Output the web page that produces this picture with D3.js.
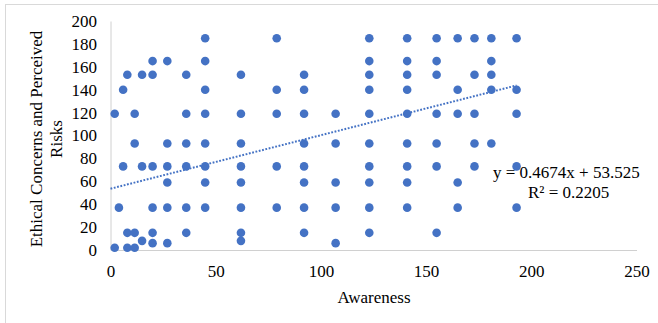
<!DOCTYPE html>
<html>
<head>
<meta charset="utf-8">
<script src="https://cdn.jsdelivr.net/npm/d3@7"></script>
<style>
  body { margin: 0; background: #fff; }
  svg text { font-family: "Liberation Serif", "Times New Roman", serif; fill: #000; }
</style>
</head>
<body>
<div id="chart"></div>
<script>
// values, one awareness column per line
var awareness = [
  2, 2,
  4,
  6, 6,
  8, 8, 8,
  11.5, 11.5, 11.5, 11.5,
  15, 15, 15,
  20, 20, 20, 20, 20, 20,
  27, 27, 27, 27, 27, 27,
  36, 36, 36, 36, 36, 36,
  45, 45, 45, 45, 45, 45, 45, 45,
  62, 62, 62, 62, 62, 62, 62, 62,
  79, 79, 79, 79, 79,
  92, 92, 92, 92, 92, 92, 92, 92,
  107, 107, 107, 107, 107,
  123, 123, 123, 123, 123, 123, 123, 123, 123, 123,
  141, 141, 141, 141, 141, 141, 141, 141, 141,
  155, 155, 155, 155, 155, 155, 155,
  165, 165, 165, 165, 165,
  173, 173, 173, 173, 173,
  181, 181, 181, 181, 181,
  193, 193, 193, 193, 193
];
var concerns = [
  119, 2,
  37,
  73, 140,
  153, 15, 2,
  119, 93, 15, 2,
  153, 73, 8,
  165, 153, 73, 37, 15, 6,
  165, 93, 73, 59, 37, 6,
  153, 119, 93, 73, 37, 15,
  185, 165, 140, 119, 93, 73, 59, 37,
  153, 119, 93, 73, 59, 37, 15, 8,
  185, 140, 119, 73, 37,
  153, 140, 119, 93, 73, 59, 37, 15,
  119, 93, 59, 37, 6,
  185, 165, 153, 140, 119, 93, 73, 59, 37, 15,
  185, 165, 153, 140, 119, 93, 73, 59, 37,
  185, 165, 153, 119, 93, 73, 15,
  185, 140, 119, 59, 37,
  185, 153, 119, 93, 73,
  185, 165, 153, 140, 93,
  185, 140, 119, 73, 37
];
var xTicks = [0, 50, 100, 150, 200, 250];
var yTicks = [0, 20, 40, 60, 80, 100, 120, 140, 160, 180, 200];
var trendSlope = 0.4674;
var trendIntercept = 53.525;
var trendLabel = "y = 0.4674x + 53.525";
var r2Label = "R\u00b2 = 0.2205";

var width = 658, height = 323;
var plotLeft = 110.5, plotRight = 636.5, plotTop = 21, plotBottom = 250;
var blue = "#4472C4", axisGrey = "#d0d0d0";
var serif = "'Liberation Serif', 'Times New Roman', serif";

var svg = d3.select("#chart").append("svg")
    .attr("width", width)
    .attr("height", height);

// chart frame (only left and top edges fall inside the picture)
svg.append("rect")
    .attr("x", 5.5)
    .attr("y", 4.5)
    .attr("width", 700)
    .attr("height", 400)
    .style("fill", "none")
    .style("stroke", "#d9d9d9");

var x = d3.scaleLinear().domain([0, 250]).range([plotLeft, plotRight]);
var y = d3.scaleLinear().domain([0, 200]).range([plotBottom, plotTop]);

var xAxis = svg.append("g")
    .attr("transform", "translate(0," + plotBottom + ")")
    .call(d3.axisBottom(x).tickValues(xTicks).tickSize(0).tickPadding(15));

var yAxis = svg.append("g")
    .attr("transform", "translate(" + plotLeft + ",0)")
    .call(d3.axisLeft(y).tickValues(yTicks).tickSize(0).tickPadding(13.5));

// d3 puts sans-serif 10px on the axis groups, override it
xAxis.attr("font-family", serif).attr("font-size", 17);
yAxis.attr("font-family", serif).attr("font-size", 17);

svg.selectAll(".domain")
    .style("stroke", axisGrey)
    .style("stroke-width", 1);
svg.selectAll(".tick text")
    .style("font-family", serif)
    .style("font-size", "17px")
    .style("fill", "#000");

// trendline
var xMax = d3.max(awareness);
svg.append("line")
    .attr("x1", x(0))
    .attr("y1", y(trendIntercept))
    .attr("x2", x(xMax))
    .attr("y2", y(trendSlope * xMax + trendIntercept))
    .style("stroke", blue)
    .style("stroke-width", 2)
    .style("stroke-dasharray", "1.8,1.6");

// points
svg.append("g").selectAll("circle")
    .data(awareness)
    .enter().append("circle")
    .attr("cx", function(d) { return x(d); })
    .attr("cy", function(d, i) { return y(concerns[i]); })
    .attr("r", 4.3)
    .style("fill", blue);

// equation
svg.append("text")
    .attr("x", 493)
    .attr("y", 178)
    .style("font-size", "17px")
    .text(trendLabel);
svg.append("text")
    .attr("x", 528)
    .attr("y", 198)
    .style("font-size", "17px")
    .text(r2Label);

// axis titles
svg.append("text")
    .attr("x", 374)
    .attr("y", 302.5)
    .attr("text-anchor", "middle")
    .style("font-size", "17px")
    .text("Awareness");

var yTitle = svg.append("text")
    .attr("transform", "rotate(-90)")
    .attr("text-anchor", "middle")
    .style("font-size", "17px");
yTitle.append("tspan")
    .attr("x", -139)
    .attr("y", 41.5)
    .text("Ethical Concerns and Perceived");
yTitle.append("tspan")
    .attr("x", -139)
    .attr("y", 61.5)
    .text("Risks");
</script>
</body>
</html>
